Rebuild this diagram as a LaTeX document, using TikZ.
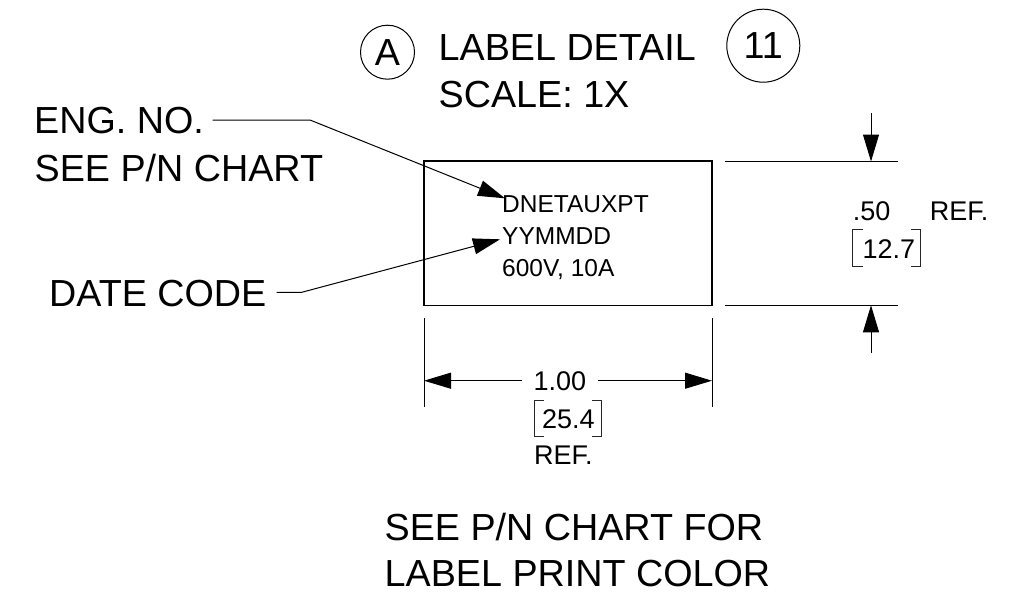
\documentclass[tikz,border=0pt]{standalone}
\usepackage{fontspec}
\setmainfont{Liberation Sans}
\usetikzlibrary{arrows.meta}
\tikzset{
 big/.style={anchor=base west,inner sep=0pt,font=\fontsize{37.7}{37.7}\selectfont},
 mid/.style={anchor=base west,inner sep=0pt,font=\fontsize{27}{27}\selectfont},
 small/.style={anchor=base west,inner sep=0pt,font=\fontsize{24.5}{24.5}\selectfont},
 thin line/.style={line width=1pt,black},
 bracket/.style={line width=.8pt,black!85},
 box line/.style={line width=1.8pt,black},
 tip/.style={thin line,-{Triangle[length=27pt,width=16pt]}},
 callout/.style={circle,draw,line width=1pt,inner sep=0pt,outer sep=0pt,font=\fontsize{37.7}{37.7}\selectfont}
}
\begin{document}
\begin{tikzpicture}[x=1pt,y=-1pt]
\useasboundingbox (0,0) rectangle (1016,605);
\node[callout,minimum size=54pt] (calloutA) at (387.5,52.2) {A};
\node[callout,minimum size=73pt] (callout11) at (763.3,45.7) {11};
\node[big] (title) at (438.5,60) {LABEL DETAIL};
\node[big] (scale) at (438.5,107.5) {SCALE: 1X};
\node[big] (eng) at (34,133) {ENG. NO.};
\node[big] (see) at (34.5,181.7) {SEE P/N CHART};
\node[big] (date) at (49,306.7) {DATE CODE};
\node[draw,box line,minimum width=288pt,minimum height=144.5pt,anchor=north west,inner sep=0pt,outer sep=0pt] (label) at (424,161) {};
\node[small] (dn) at (502,212) {DNETAUXPT};
\node[small] (yy) at (502,244) {YYMMDD};
\node[small] (volt) at (502,276) {600V, 10A};
\node[mid] (w) at (533.5,390.7) {1.00};
\node[mid] (wmm) at (542,428) {25.4};
\node[mid] (wref) at (534,464) {REF.};
\node[mid] (h) at (852.6,220) {.50};
\node[mid] (href) at (929.7,220) {REF.};
\node[mid] (hmm) at (862.5,258.3) {12.7};
\node[big] (note1) at (384.5,540) {SEE P/N CHART FOR};
\node[big] (note2) at (384.5,586.7) {LABEL PRINT COLOR};
% leaders
\coordinate (e0) at (212.7,120); \coordinate (e1) at (310,120); \coordinate (e2) at (505,198.3);
\coordinate (d0) at (276.7,292.3); \coordinate (d1) at (301.7,292.3); \coordinate (d2) at (500,239.3);
\draw[tip] (e0) -- (e1) -- (e2);
\draw[tip] (d0) -- (d1) -- (d2);
% width dimension
\coordinate (wl) at (424,380.7); \coordinate (wr) at (712,380.7);
\coordinate (wlm) at (521.7,380.7); \coordinate (wrm) at (598,380.7);
\draw[tip] (wlm) -- (wl);
\draw[tip] (wrm) -- (wr);
\coordinate (x1a) at (424,318); \coordinate (x1b) at (424,407);
\coordinate (x2a) at (712,318); \coordinate (x2b) at (712,407);
\draw[thin line] (x1a) -- (x1b);
\draw[thin line] (x2a) -- (x2b);
% height dimension
\coordinate (y1a) at (725,161.5); \coordinate (y1b) at (898,161.5);
\coordinate (y2a) at (725,305.3); \coordinate (y2b) at (898,305.3);
\draw[thin line] (y1a) -- (y1b);
\draw[thin line] (y2a) -- (y2b);
\coordinate (t0) at (871,113); \coordinate (t1) at (871,161.5);
\coordinate (b0) at (871,353); \coordinate (b1) at (871,305.3);
\draw[tip] (t0) -- (t1);
\draw[tip] (b0) -- (b1);
% brackets
\draw[bracket] (544,400) -- (534.3,400) -- (534.3,436) -- (544,436);
\draw[bracket] (592,400) -- (601.7,400) -- (601.7,436) -- (592,436);
\draw[bracket] (862.5,229.3) -- (852.7,229.3) -- (852.7,266) -- (862.5,266);
\draw[bracket] (911,229.3) -- (920.7,229.3) -- (920.7,266) -- (911,266);
\end{tikzpicture}
\end{document}
